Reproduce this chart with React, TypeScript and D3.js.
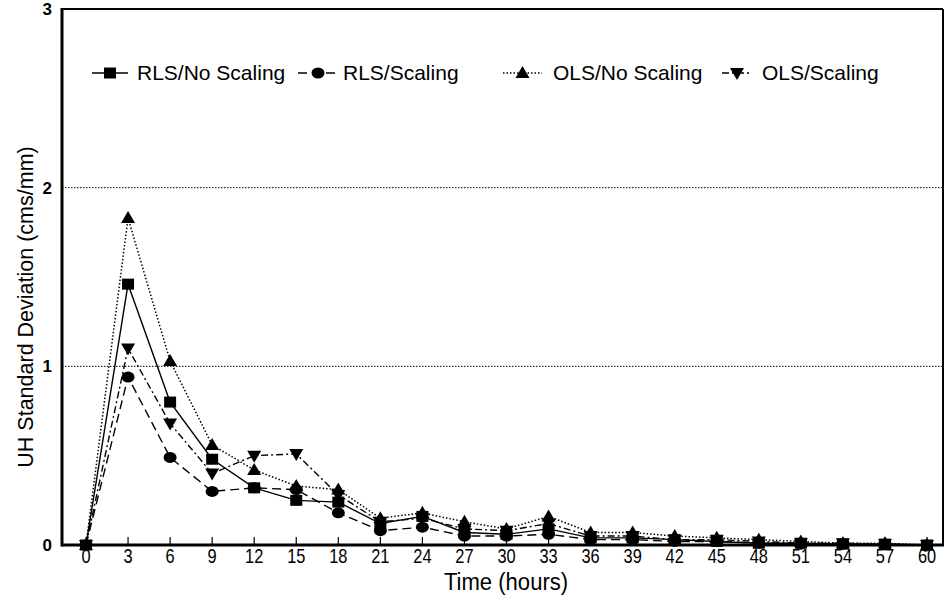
import React from "react";
import * as d3 from "d3";

const hours = [0, 3, 6, 9, 12, 15, 18, 21, 24, 27, 30, 33, 36, 39, 42, 45, 48, 51, 54, 57, 60];
const rlsNoScaling = [0, 1.46, 0.80, 0.48, 0.32, 0.25, 0.24, 0.12, 0.16, 0.07, 0.06, 0.09, 0.04, 0.04, 0.03, 0.02, 0.01, 0.01, 0.005, 0.005, 0];
const rlsScaling = [0, 0.94, 0.49, 0.30, 0.32, 0.31, 0.18, 0.08, 0.10, 0.05, 0.05, 0.06, 0.03, 0.03, 0.02, 0.02, 0.01, 0.005, 0.005, 0.003, 0];
const olsNoScaling = [0, 1.83, 1.03, 0.56, 0.42, 0.33, 0.31, 0.15, 0.18, 0.13, 0.09, 0.16, 0.07, 0.07, 0.05, 0.04, 0.03, 0.02, 0.01, 0.01, 0];
const olsScaling = [0, 1.10, 0.68, 0.40, 0.50, 0.51, 0.28, 0.13, 0.15, 0.09, 0.08, 0.12, 0.05, 0.05, 0.03, 0.03, 0.02, 0.01, 0.01, 0.005, 0];
const yTicks = [0, 1, 2, 3];
const gridValues = [1, 2];
const seriesNames = ["RLS/No Scaling", "RLS/Scaling", "OLS/No Scaling", "OLS/Scaling"];

type Shape = "square" | "circle" | "triangle" | "invtriangle";

const seriesDefs: { name: string; values: number[]; shape: Shape; dash: string; width: number; legend: { x1: number; x2: number; tx: number } }[] = [
  { name: seriesNames[0], values: rlsNoScaling, shape: "square", dash: "none", width: 1.4, legend: { x1: 92, x2: 128, tx: 137 } },
  { name: seriesNames[1], values: rlsScaling, shape: "circle", dash: "9,5", width: 1.4, legend: { x1: 298, x2: 338, tx: 343 } },
  { name: seriesNames[2], values: olsNoScaling, shape: "triangle", dash: "1.5,2", width: 1.5, legend: { x1: 503, x2: 542, tx: 553 } },
  { name: seriesNames[3], values: olsScaling, shape: "invtriangle", dash: "7,3,2,3", width: 1.4, legend: { x1: 722, x2: 752, tx: 762 } },
];

const W = 951;
const H = 611;
const frame = { left: 62, right: 943, top: 9, bottom: 545 };
const SANS = "'Liberation Sans', Arial, sans-serif";

function Marker({ shape, x, y }: { shape: Shape; x: number; y: number }) {
  if (shape === "square") return <rect x={x - 6} y={y - 5.5} width={12} height={11} fill="#000" />;
  if (shape === "circle") return <ellipse cx={x} cy={y} rx={6.5} ry={5.5} fill="#000" />;
  if (shape === "triangle")
    return <path d={`M${x},${y - 7} L${x + 7},${y + 5} L${x - 7},${y + 5} Z`} fill="#000" />;
  return <path d={`M${x},${y + 7} L${x + 7},${y - 5} L${x - 7},${y - 5} Z`} fill="#000" />;
}

export default function App() {
  const x = d3.scaleLinear().domain([0, 60]).range([86, 927]);
  const y = d3.scaleLinear().domain([0, 3]).range([frame.bottom, frame.top]);
  const line = d3
    .line<number>()
    .x((_, i) => x(hours[i]))
    .y((d) => y(d));

  return (
    <svg width={W} height={H} style={{ position: "absolute", left: 0, top: 0, background: "#fff" }}>
      <rect x={0} y={0} width={W} height={H} fill="#fff" />
      {gridValues.map((g) => (
        <line key={g} x1={frame.left} x2={frame.right} y1={y(g)} y2={y(g)} stroke="#000" strokeWidth={1} strokeDasharray="1.5,1.5" />
      ))}
      {/* frame */}
      <line x1={frame.left} x2={frame.right} y1={frame.top} y2={frame.top} stroke="#000" strokeWidth={2} />
      <line x1={frame.right} x2={frame.right} y1={frame.top} y2={frame.bottom} stroke="#000" strokeWidth={2} />
      <line x1={frame.left} x2={frame.left} y1={frame.top - 1} y2={frame.bottom + 1.5} stroke="#000" strokeWidth={3} />
      <line x1={frame.left} x2={frame.right + 1} y1={frame.bottom} y2={frame.bottom} stroke="#000" strokeWidth={3} />
      {/* x ticks */}
      {hours.map((h) => (
        <g key={h}>
          <line x1={x(h)} x2={x(h)} y1={frame.bottom} y2={frame.bottom - 8} stroke="#000" strokeWidth={1.2} />
          <text transform={`translate(${x(h)},563) scale(0.82,1)`} textAnchor="middle" fontFamily={SANS} fontSize={20} fill="#000">
            {h}
          </text>
        </g>
      ))}
      {yTicks.map((t) => (
        <text key={t} x={52} y={y(t) + 6} textAnchor="end" fontFamily={SANS} fontWeight="bold" fontSize={17} fill="#000">
          {t}
        </text>
      ))}
      <text transform="translate(506,590) scale(0.92,1)" textAnchor="middle" fontFamily={SANS} fontSize={24} fill="#000">
        Time (hours)
      </text>
      <text transform={`translate(33,307) rotate(-90)`} textAnchor="middle" fontFamily={SANS} fontSize={21.5} fill="#000">
        UH Standard Deviation (cms/mm)
      </text>
      {/* series lines */}
      {seriesDefs.map((s) => (
        <path key={s.name} d={line(s.values) || ""} fill="none" stroke="#000" strokeWidth={s.width} strokeDasharray={s.dash} />
      ))}
      {seriesDefs.map((s) => (
        <g key={s.name + "m"}>
          {s.values.map((v, i) => (
            <Marker key={i} shape={s.shape} x={x(hours[i])} y={y(v)} />
          ))}
        </g>
      ))}
      {/* legend */}
      {seriesDefs.map((s) => (
        <g key={s.name + "l"}>
          <line x1={s.legend.x1} x2={s.legend.x2} y1={73} y2={73} stroke="#000" strokeWidth={s.width} strokeDasharray={s.dash} />
          <Marker shape={s.shape} x={(s.legend.x1 + s.legend.x2) / 2} y={73} />
          <text x={s.legend.tx} y={80} fontFamily={SANS} fontSize={21} fill="#000">
            {s.name}
          </text>
        </g>
      ))}
    </svg>
  );
}
